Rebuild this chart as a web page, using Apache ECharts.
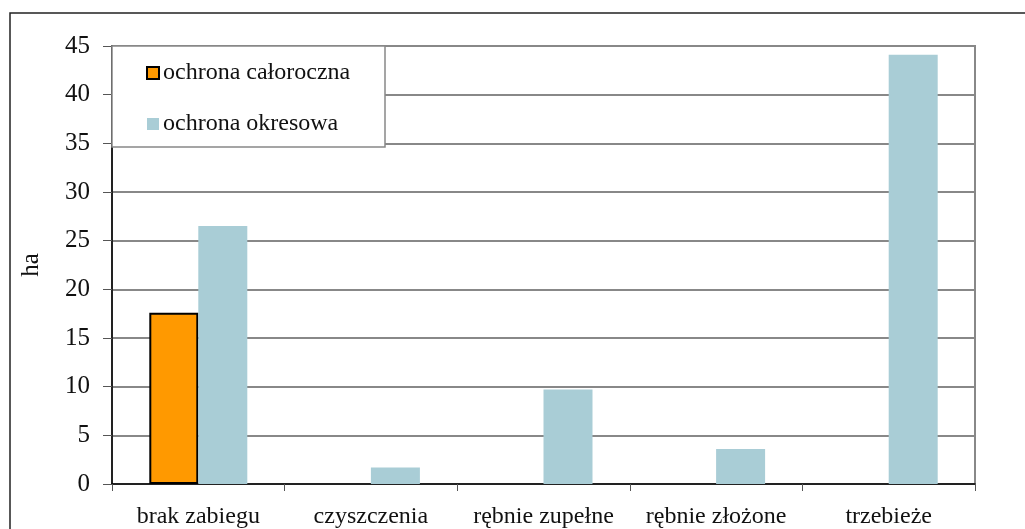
<!DOCTYPE html>
<html>
<head>
<meta charset="utf-8">
<script src="https://cdn.jsdelivr.net/npm/echarts@6/dist/echarts.min.js"></script>
<style>
html,body{margin:0;padding:0;background:#fff;}
#chart{width:1025px;height:529px;}
</style>
</head>
<body>
<div id="chart"></div>
<script>
var categories = ['brak zabiegu', 'czyszczenia', 'rębnie zupełne', 'rębnie złożone', 'trzebieże'];
var calorocznaValues = [17.6, '-', '-', '-', '-'];//ochrona całoroczna, brak danych = '-'
var okresowaValues = [26.5, 1.7, 9.7, 3.6, 44.1];//ochrona okresowa
var seriesNames = ['ochrona całoroczna', 'ochrona okresowa'];
var yTicks = [0, 5, 10, 15, 20, 25, 30, 35, 40, 45];

var fontName = '"Liberation Serif", "DejaVu Serif", serif';
var chart = echarts.init(document.getElementById('chart'));

var option = {
	animation: false,
	backgroundColor: '#fff',
	textStyle: { fontFamily: fontName },
	grid: { left: 112, right: 50, top: 46, bottom: 45, show: true, borderColor: '#888', borderWidth: 2, containLabel: false },
	graphic: [
		// ramka zewnetrzna
		{ type: 'rect', shape: { x: 10, y: 13, width: 1030, height: 530 }, style: { fill: 'none', stroke: '#222', lineWidth: 1.5 }, z: 1, silent: true },
		// ramka legendy
		{ type: 'rect', shape: { x: 112, y: 46, width: 273, height: 101 }, style: { fill: '#fff', stroke: '#888', lineWidth: 1.5 }, z: 50, silent: true }
	],
	legend: {
		data: [
			{ name: seriesNames[0], icon: 'rect' },
			{ name: seriesNames[1], icon: 'rect' }
		],
		orient: 'vertical',
		left: 146,
		top: 61,
		padding: 0,
		itemWidth: 12,
		itemHeight: 12,
		itemGap: 27,
		z: 60,
		selectedMode: false,
		textStyle: { fontFamily: fontName, fontSize: 24, lineHeight: 24, color: '#111', padding: [0, 0, 0, -1] }
	},
	xAxis: {
		type: 'category',
		data: categories,
		axisLine: { lineStyle: { color: '#000', width: 1.5 } },
		axisTick: { show: true, length: 7, interval: 0, alignWithLabel: false, lineStyle: { color: '#555', width: 1 } },
		axisLabel: { fontFamily: fontName, fontSize: 24, color: '#111', margin: 21, interval: 0, hideOverlap: false },
		splitLine: { show: false }
	},
	yAxis: {
		type: 'value',
		min: yTicks[0],
		max: yTicks[yTicks.length - 1],
		interval: 5,
		name: 'ha',
		nameLocation: 'middle',
		nameGap: 68,
		nameRotate: 90,
		nameTextStyle: { fontFamily: fontName, fontSize: 25, color: '#111' },
		axisLine: { show: true, lineStyle: { color: '#000', width: 1.5 } },
		axisTick: { show: true, length: 9, lineStyle: { color: '#555' } },
		axisLabel: { fontFamily: fontName, fontSize: 25, color: '#111', margin: 22 },
		splitLine: { show: true, lineStyle: { color: '#888', width: 2 } }
	},
	series: [
		{
			name: seriesNames[0],
			type: 'bar',
			data: calorocznaValues,
			barWidth: 49,
			barGap: '0%',
			itemStyle: { color: '#FF9900', borderColor: '#000', borderWidth: 2 }
		},
		{
			name: seriesNames[1],
			type: 'bar',
			data: okresowaValues,
			barWidth: 49,
			barGap: '0%',
			itemStyle: { color: '#A9CDD6' }
		}
	]
};
chart.setOption(option);
</script>
</body>
</html>
